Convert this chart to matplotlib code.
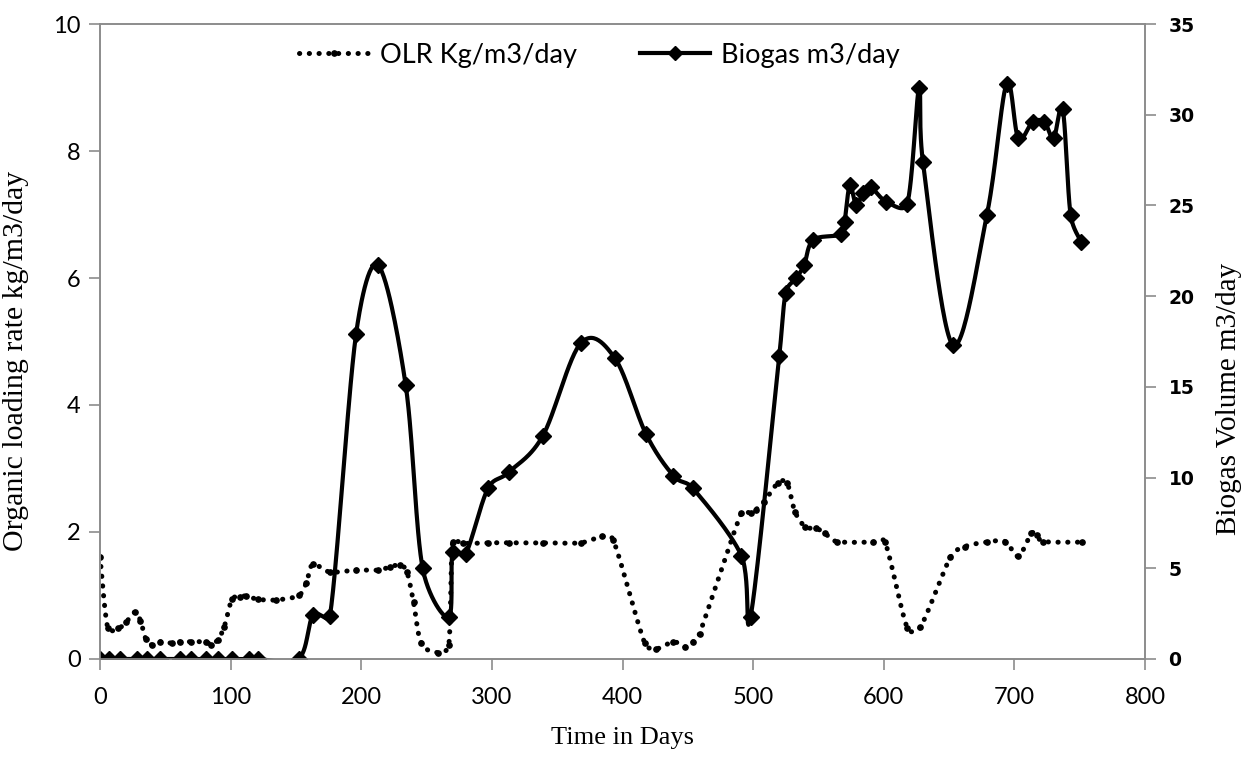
import numpy as np
import matplotlib
matplotlib.use('Agg')
import matplotlib.pyplot as plt
from matplotlib.lines import Line2D

# OLR, kg/m3/day (left axis)
olr_days = [0, 6, 14, 20, 27, 31, 35, 40, 46, 55, 61, 70, 81, 85, 90, 95, 101, 107, 112, 121,
            135, 152, 158, 163, 176, 196, 213, 222, 230, 235, 240, 246, 259, 267, 270, 278, 297,
            313, 339, 368, 384, 393, 417, 426, 439, 448, 454, 459, 491, 498, 502, 508, 519, 526,
            532, 540, 548, 555, 564, 592, 601, 618, 628, 651, 662, 679, 693, 703, 713, 717, 722, 752]
olr = [1.61, 0.48, 0.48, 0.58, 0.74, 0.6, 0.32, 0.22, 0.27, 0.25, 0.27, 0.27, 0.27, 0.22, 0.3, 0.5,
       0.94, 0.98, 0.99, 0.94, 0.93, 1.0, 1.2, 1.49, 1.37, 1.4, 1.4, 1.45, 1.48, 1.37, 0.9, 0.25,
       0.1, 0.22, 1.85, 1.82, 1.83, 1.83, 1.83, 1.83, 1.93, 1.87, 0.25, 0.16, 0.27, 0.19, 0.27,
       0.4, 2.3, 2.3, 2.35, 2.47, 2.77, 2.77, 2.32, 2.08, 2.06, 1.98, 1.85, 1.84, 1.84, 0.49, 0.5,
       1.6, 1.77, 1.84, 1.85, 1.62, 1.98, 1.95, 1.85, 1.84]

# Biogas, m3/day (right axis)
biogas_days = [0, 7, 15, 28, 36, 46, 61, 70, 81, 90, 101, 114, 121, 152, 163, 176, 196, 213, 234,
               247, 267, 270, 280, 297, 313, 339, 368, 394, 418, 439, 454, 491, 498, 520, 525, 533,
               539, 546, 567, 570, 574, 579, 584, 590, 602, 618, 627, 630, 653, 679, 694, 703, 714,
               723, 730, 737, 743, 751]
biogas = [0, 0, 0, 0, 0, 0, 0, 0, 0, 0, 0, 0, 0, 0, 2.4, 2.35, 17.9, 21.7, 15.1, 5.0, 2.3, 5.9,
          5.8, 9.4, 10.3, 12.3, 17.4, 16.6, 12.4, 10.1, 9.4, 5.7, 2.3, 16.7, 20.2, 21.0, 21.7, 23.1,
          23.4, 24.1, 26.1, 25.0, 25.7, 26.0, 25.2, 25.1, 31.5, 27.4, 17.3, 24.5, 31.7, 28.7, 29.6,
          29.6, 28.7, 30.3, 24.5, 23.0]


def smooth_line(x, y, sx, sy, n=30):
    '''Excel-style smoothed line: Bezier through every point,
    control arms capped at half the segment length (screen units).'''
    p = np.column_stack([np.asarray(x) * sx, np.asarray(y) * sy]).astype(float)
    p = np.vstack([p[0], p, p[-1]])
    t = np.linspace(0, 1, n)[:, None]
    out = []
    for i in range(1, len(p) - 2):
        p0, p1, p2, p3 = p[i - 1], p[i], p[i + 1], p[i + 2]
        d12 = np.hypot(*(p2 - p1))
        a = (p2 - p0) / 6
        b = (p3 - p1) / 6
        la, lb = np.hypot(*a), np.hypot(*b)
        if la > d12 / 2:
            a = a * (d12 / 2) / la
        if lb > d12 / 2:
            b = b * (d12 / 2) / lb
        c1 = p1 + a
        c2 = p2 - b
        seg = ((1 - t) ** 3) * p1 + 3 * ((1 - t) ** 2) * t * c1 + 3 * (1 - t) * t ** 2 * c2 + t ** 3 * p2
        out.append(seg if i == 1 else seg[1:])
    out = np.vstack(out)
    return out[:, 0] / sx, out[:, 1] / sy


def main():
    fig = plt.figure(figsize=(12.5, 7.65), dpi=100)
    ax = fig.add_axes([0.08, 0.1386, 0.836, 0.83])
    ax2 = ax.twinx()

    tick_font = 'Lato'
    grey = '#8c8c8c'
    px_day = 1045 / 800

    # OLR dotted line
    lx, ly = smooth_line(olr_days, olr, px_day, 63.5)
    ax.plot(lx, ly, color='black', lw=3.6, ls=(0, (0.05, 1.9)), dash_capstyle='round')
    ax.plot(olr_days, olr, ls='none', marker='o', ms=3.8, color='black')

    # Biogas solid line with diamonds
    bx, by = smooth_line(biogas_days, biogas, px_day, 635 / 35)
    ax2.plot(bx, by, color='black', lw=3)
    ax2.plot(biogas_days, biogas, ls='none', marker='D', ms=8.5, color='black')

    ax.set_xlim(0, 800)
    ax.set_ylim(0, 10)
    ax2.set_ylim(0, 35)
    ax.set_xticks(range(0, 801, 100))
    ax.set_yticks(range(0, 11, 2))
    ax2.set_yticks(range(0, 36, 5))

    for a in (ax, ax2):
        for s in a.spines.values():
            s.set_color(grey)
            s.set_linewidth(1.2)
    ax.tick_params(axis='both', direction='out', length=8, width=1.2, color=grey, labelsize=17, pad=6)
    ax.tick_params(axis='x', pad=12)
    ax2.tick_params(axis='y', direction='out', length=8, width=1.2, color=grey, labelsize=13.5, pad=9)
    for lab in ax.get_xticklabels() + ax.get_yticklabels():
        lab.set_fontfamily(tick_font)
    for lab in ax2.get_yticklabels():
        lab.set_fontfamily('DejaVu Sans')
        lab.set_fontweight('bold')

    ax.set_xlabel('Time in Days', fontfamily='Liberation Serif', fontsize=19, labelpad=14)
    ax.set_ylabel('Organic loading rate kg/m3/day', fontfamily='Liberation Serif', fontsize=21.5)
    ax2.set_ylabel('Biogas Volume m3/day', fontfamily='Liberation Serif', fontsize=21)
    ax.yaxis.set_label_coords(-0.068, 0.47)
    ax2.yaxis.set_label_coords(1.068, 0.41)

    h1 = Line2D([0, 0.5, 1], [0, 0, 0], color='black', lw=3.6, ls=(0, (0.05, 1.9)),
                dash_capstyle='round', marker='o', ms=3.8, markevery=[1])
    h2 = Line2D([0, 0.5, 1], [0, 0, 0], color='black', lw=3, marker='D', ms=7.5, markevery=[1])
    ax.legend([h1, h2], ['OLR Kg/m3/day', 'Biogas m3/day'], loc='center',
              bbox_to_anchor=(0.478, 0.951), ncol=2, frameon=False, handlelength=2.6,
              columnspacing=2.3, handletextpad=0.4, prop={'family': tick_font, 'size': 19.5})

    fig.savefig('out.png', dpi=100)


if __name__ == "__main__":
    main()
